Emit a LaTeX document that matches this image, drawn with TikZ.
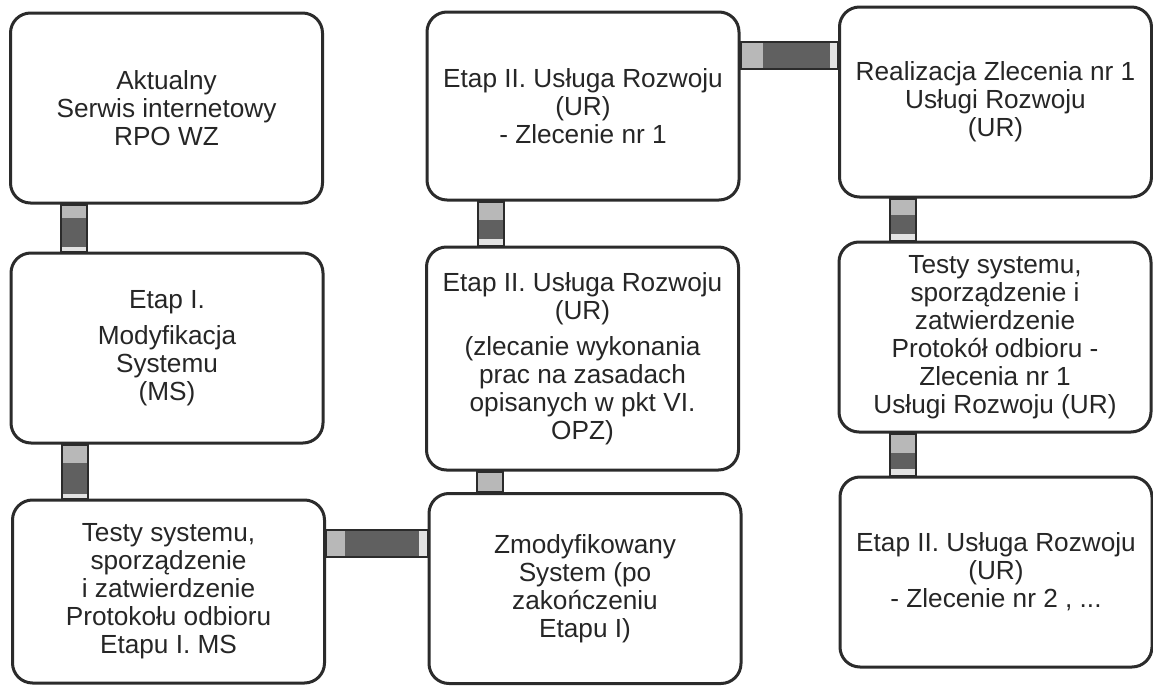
\documentclass[tikz,border=0pt]{standalone}
\usepackage{fontspec}
\setmainfont{Liberation Sans}
\usetikzlibrary{calc}

\definecolor{boxedge}{HTML}{2B2B2B}
\definecolor{linklight}{HTML}{B8B8B8}
\definecolor{linkdark}{HTML}{606060}
\definecolor{linkpale}{HTML}{E2E2E2}

\begin{document}
\begin{tikzpicture}[x=0.5pt, y=-0.5pt,
    stage/.style={rectangle, rounded corners=10pt, draw=boxedge, line width=1.5pt,
        fill=white, minimum width=156pt, minimum height=95pt, align=center,
        text=black!85, font=\fontsize{13.1pt}{14pt}\selectfont},
    link/.style={draw=boxedge, line width=1pt}]
    \useasboundingbox (0,0) rectangle (1153,686);

    % Column 1: Etap I
    \node[stage] (serwis) at (166.5,108) {Aktualny\\Serwis internetowy\\RPO WZ};
    \node[stage] (etapI) at (167,348) {Etap I.\\[4pt]Modyfikacja\\Systemu\\(MS)};
    \node[stage, minimum height=91.5pt] (testyI) at (168.5,591.5)
        {Testy systemu,\\sporządzenie\\i zatwierdzenie\\Protokołu odbioru\\Etapu I. MS};

    % Column 2: Etap II
    \node[stage, minimum height=94pt] (zlecenie1) at (583,106)
        {Etap II. Usługa Rozwoju\\(UR)\\- Zlecenie nr 1};
    \node[stage, minimum height=111.5pt] (uslugi) at (582.5,358.5)
        {Etap II. Usługa Rozwoju\\(UR)\\[4pt](zlecanie wykonania\\prac na zasadach\\opisanych w pkt VI.\\OPZ)};
    \node[stage] (zmodsys) at (585,588.5) {Zmodyfikowany\\System (po\\zakończeniu\\Etapu I)};

    % Column 3: realizacja zlecen
    \node[stage] (realiz1) at (995.5,102) {Realizacja Zlecenia nr 1\\Usługi Rozwoju\\(UR)};
    \node[stage] (testy1) at (995,337)
        {Testy systemu,\\sporządzenie i\\zatwierdzenie\\Protokół odbioru -\\Zlecenia nr 1\\Usługi Rozwoju (UR)};
    \node[stage] (zlecenie2) at (996,572) {Etap II. Usługa Rozwoju\\(UR)\\- Zlecenie nr 2 , ...};

    % Vertical links
    \foreach \up/\down/\a/\b in {serwis/etapI/0.29/0.9, etapI/testyI/0.35/0.91,
            zlecenie1/uslugi/0.43/0.85, uslugi/zmodsys/1/1,
            realiz1/testy1/0.4/0.84, testy1/zlecenie2/0.47/0.84} {
        \coordinate (top) at ([xshift=26pt]\up.south west);
        \coordinate (bot) at ([xshift=39pt]\up.south west |- \down.north);
        \coordinate (m1) at ($(top)!\a!(bot)$);
        \coordinate (m2) at ($(top)!\b!(bot)$);
        \fill[linklight] (top) rectangle (m1 -| bot);
        \fill[linkdark] (m1 -| top) rectangle (m2 -| bot);
        \fill[linkpale] (m2 -| top) rectangle (bot);
        \draw[link] (top) rectangle (bot);
    }

    % Horizontal links
    \foreach \lft/\rgt/\a/\b in {testyI/zmodsys/0.19/0.92, zlecenie1/realiz1/0.23/0.92} {
        \coordinate (beg) at ([yshift=-15.5pt]\lft.north east);
        \coordinate (end) at ([yshift=-29pt]\lft.north east -| \rgt.west);
        \coordinate (m1) at ($(beg)!\a!(end)$);
        \coordinate (m2) at ($(beg)!\b!(end)$);
        \fill[linklight] (beg) rectangle (m1 |- end);
        \fill[linkdark] (m1 |- beg) rectangle (m2 |- end);
        \fill[linkpale] (m2 |- beg) rectangle (end);
        \draw[link] (beg) rectangle (end);
    }
\end{tikzpicture}
\end{document}
